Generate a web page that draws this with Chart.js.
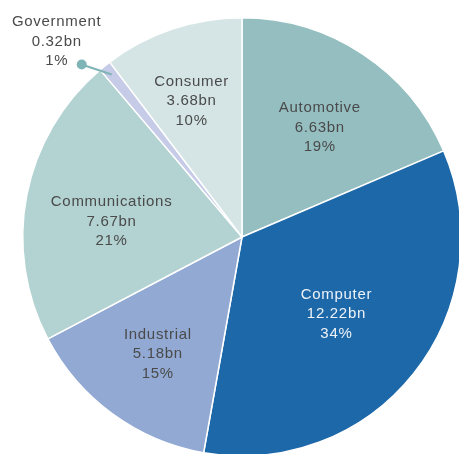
<!DOCTYPE html>
<html>
<head>
<meta charset="utf-8">
<script src="https://cdn.jsdelivr.net/npm/chart.js@4/dist/chart.umd.min.js"></script>
<style>
  html, body { margin: 0; padding: 0; background: #fff; overflow: hidden; }
  #wrap { position: relative; width: 484px; height: 474px; }
</style>
</head>
<body>
<div id="wrap"><canvas id="marketChart"></canvas></div>
<script>
// segment revenue, billions
const segments = ["Automotive", "Computer", "Industrial", "Communications", "Government", "Consumer"];
const revenue = [6.63, 12.22, 5.18, 7.67, 0.32, 3.68];
const shareText = ["19%", "34%", "15%", "21%", "1%", "10%"];

const sliceColors = ["#95bec0", "#1d68a9", "#91a9d3", "#b3d2d2", "#c6cbe7", "#d5e5e5"];
const textColors = ["#4a4a4a", "#eef3f8", "#4a4a4a", "#4a4a4a", "#4a4a4a", "#4a4a4a"];
// label placement inside each slice: fraction of radius, turn in degrees
const labelRadius = [0.62, 0.55, 0.65, 0.6, 0, 0.67];
const labelTurn = [1.5, 0, 0, -3.5, 0, -1.5];

const sliceLabels = {
    id: "sliceLabels",
    afterDatasetsDraw(chart) {
        const ctx = chart.ctx;
        const arcs = chart.getDatasetMeta(0).data;
        ctx.save();
        ctx.font = "15px 'Liberation Sans', Arial, sans-serif";
        ctx.letterSpacing = "0.7px";
        ctx.textAlign = "center";
        ctx.textBaseline = "middle";
        arcs.forEach((arc, i) => {
            const { x, y, startAngle, endAngle, outerRadius } = arc.getProps(
                ["x", "y", "startAngle", "endAngle", "outerRadius"], true);
            const mid = (startAngle + endAngle) / 2 + labelTurn[i] * Math.PI / 180;
            const lines = [segments[i], revenue[i].toFixed(2) + "bn", shareText[i]];
            let cx, cy;
            if (segments[i] === "Government") {
                // tiny slice: leader line out to a dot, text beside it
                const ex = x + Math.cos(mid) * outerRadius * 0.95;
                const ey = y + Math.sin(mid) * outerRadius * 0.95;
                const dx = ex - 30, dy = ey - 10;
                ctx.strokeStyle = "#7fb4b6";
                ctx.lineWidth = 2;
                ctx.beginPath();
                ctx.moveTo(dx, dy);
                ctx.lineTo(ex, ey);
                ctx.stroke();
                ctx.fillStyle = "#7fb4b6";
                ctx.beginPath();
                ctx.arc(dx, dy, 5, 0, Math.PI * 2);
                ctx.fill();
                cx = dx - 25;
                cy = dy - 23;
            } else {
                cx = x + Math.cos(mid) * outerRadius * labelRadius[i];
                cy = y + Math.sin(mid) * outerRadius * labelRadius[i] + 2;
            }
            ctx.fillStyle = textColors[i];
            lines.forEach((t, k) => ctx.fillText(t, cx, cy + (k - 1) * 19.5));
        });
        ctx.restore();
    }
};

new Chart(document.getElementById("marketChart"), {
    type: "pie",
    data: {
        labels: segments,
        datasets: [{
            data: revenue,
            backgroundColor: sliceColors,
            borderColor: "#ffffff",
            borderWidth: 1.5
        }]
    },
    options: {
        responsive: true,
        maintainAspectRatio: false,
        animation: false,
        layout: { padding: { left: 22, right: 22, top: 17, bottom: 17 } },
        plugins: {
            legend: { display: false },
            tooltip: { enabled: false }
        }
    },
    plugins: [sliceLabels]
});
</script>
</body>
</html>
